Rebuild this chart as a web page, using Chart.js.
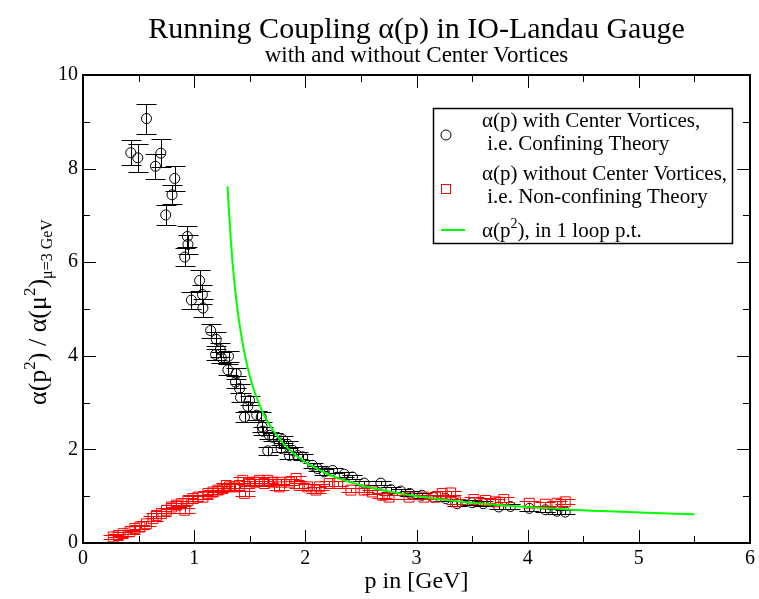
<!DOCTYPE html>
<html>
<head>
<meta charset="utf-8">
<script src="https://cdn.jsdelivr.net/npm/chart.js@4.4.1/dist/chart.umd.min.js"></script>
<style>
html, body { margin: 0; padding: 0; background: #fff; }
</style>
</head>
<body>
<canvas id="myChart" width="759" height="599"></canvas>
<script>
// Confining theory (with center vortices), black circles
const confX = [0.430, 0.493, 0.571, 0.652, 0.700, 0.744, 0.801, 0.825, 0.915, 0.939, 0.944, 0.975,
  1.049, 1.074, 1.079, 1.148, 1.193, 1.199, 1.235, 1.244, 1.303, 1.309, 1.372, 1.378, 1.408, 1.417,
  1.453, 1.483, 1.498, 1.563, 1.603, 1.612, 1.617, 1.662, 1.677, 1.707, 1.767, 1.782, 1.796, 1.841,
  1.857, 1.886, 1.931, 1.976, 2.065, 2.110, 2.170, 2.245, 2.350, 2.424, 2.529, 2.679, 2.769, 2.858,
  2.939, 3.050, 3.150, 3.262, 3.366, 3.500, 3.600, 3.740, 3.845, 4.015, 4.159, 4.263, 4.338]
const confY = [8.34, 8.23, 9.07, 8.05, 8.33, 7.01, 7.44, 7.79, 6.11, 6.55, 6.38, 5.19,
  5.61, 5.31, 5.02, 4.54, 4.03, 4.35, 4.13, 3.96, 3.70, 3.99, 3.44, 3.62, 3.30, 3.11,
  2.69, 2.92, 3.05, 2.73, 2.69, 2.48, 2.39, 1.97, 2.30, 2.26, 2.14, 2.02, 2.21, 2.11,
  1.87, 1.98, 1.87, 1.84, 1.66, 1.59, 1.52, 1.55, 1.47, 1.41, 1.28, 1.28, 1.14, 1.11,
  1.06, 1.02, 0.98, 0.95, 0.84, 0.86, 0.84, 0.77, 0.78, 0.74, 0.71, 0.68, 0.66]
const confErr = [0.27, 0.30, 0.32, 0.27, 0.30, 0.22, 0.20, 0.27, 0.20, 0.22, 0.20, 0.18,
  0.22, 0.20, 0.20, 0.15, 0.12, 0.15, 0.15, 0.12, 0.12, 0.12, 0.12, 0.12, 0.10, 0.10,
  0.10, 0.10, 0.10, 0.10, 0.10, 0.10, 0.08, 0.08, 0.08, 0.08, 0.08, 0.08, 0.08, 0.08,
  0.07, 0.08, 0.07, 0.07, 0.06, 0.06, 0.06, 0.06, 0.05, 0.05, 0.05, 0.05, 0.05, 0.05,
  0.05, 0.05, 0.05, 0.05, 0.05, 0.05, 0.05, 0.05, 0.05, 0.05, 0.05, 0.05, 0.05]

// Non-confining theory (without center vortices), red squares
const nonconfX = [0.272, 0.317, 0.361, 0.422, 0.466, 0.511, 0.571, 0.630, 0.661, 0.706, 0.751, 0.796,
  0.840, 0.885, 0.915, 0.944, 0.989, 1.034, 1.079, 1.124, 1.169, 1.213, 1.258, 1.289, 1.318, 1.363,
  1.408, 1.438, 1.453, 1.498, 1.543, 1.587, 1.632, 1.662, 1.707, 1.767, 1.782, 1.857, 1.917, 1.946,
  2.021, 2.096, 2.126, 2.215, 2.290, 2.410, 2.529, 2.604, 2.693, 2.753, 2.933, 3.067, 3.172, 3.231,
  3.307, 3.352, 3.516, 3.621, 3.710, 3.785, 4.015, 4.159, 4.263, 4.338]
const nonconfY = [0.13, 0.16, 0.20, 0.24, 0.31, 0.34, 0.41, 0.52, 0.59, 0.63, 0.70, 0.77,
  0.81, 0.84, 0.70, 0.91, 0.95, 0.98, 0.98, 1.06, 1.09, 1.13, 1.16, 1.23, 1.20, 1.20,
  1.23, 1.34, 1.06, 1.27, 1.30, 1.34, 1.27, 1.34, 1.30, 1.20, 1.30, 1.30, 1.38, 1.23,
  1.20, 1.13, 1.20, 1.27, 1.27, 1.13, 1.13, 1.09, 1.02, 0.98, 0.98, 0.98, 0.98, 1.06,
  1.07, 0.88, 0.93, 0.91, 0.88, 0.93, 0.85, 0.83, 0.85, 0.88]
const nonconfErr = [0.04, 0.04, 0.04, 0.04, 0.05, 0.05, 0.05, 0.05, 0.05, 0.05, 0.05, 0.05,
  0.05, 0.05, 0.05, 0.05, 0.05, 0.05, 0.05, 0.05, 0.05, 0.05, 0.05, 0.06, 0.06, 0.06,
  0.06, 0.06, 0.06, 0.06, 0.06, 0.06, 0.06, 0.06, 0.06, 0.06, 0.06, 0.06, 0.06, 0.06,
  0.06, 0.06, 0.06, 0.06, 0.06, 0.05, 0.05, 0.05, 0.05, 0.05, 0.05, 0.05, 0.05, 0.05,
  0.05, 0.05, 0.05, 0.05, 0.05, 0.05, 0.05, 0.05, 0.05, 0.05]

// 1 loop perturbation theory curve, green
const loopX = [1.30, 1.33, 1.36, 1.40, 1.45, 1.50, 1.56, 1.63, 1.70, 1.80, 1.90, 2.00,
  2.20, 2.40, 2.60, 2.80, 3.00, 3.30, 3.60, 4.00, 4.50, 5.00, 5.50]
const loopY = [7.62, 6.45, 5.61, 4.80, 4.09, 3.57, 3.12, 2.73, 2.44, 2.13, 1.90, 1.73,
  1.475, 1.30, 1.175, 1.077, 1.00, 0.91, 0.84, 0.77, 0.70, 0.653, 0.613]

const xTicks = [0, 1, 2, 3, 4, 5, 6]
const yTicks = [0, 2, 4, 6, 8, 10]
const xMinor = [0.5, 1.5, 2.5, 3.5, 4.5, 5.5]
const yMinor = [1, 3, 5, 7, 9]

const serif = "'Liberation Serif', 'DejaVu Serif', serif"

function pts(xs, ys) {
  return xs.map(function (x, i) { return { x: x, y: ys[i] } })
}

// error bars, drawn right after their own dataset
const errorBars = {
  id: 'errorBars',
  afterDatasetDraw(chart, args) {
    const ds = chart.data.datasets[args.index]
    if (!ds.errors) return
    const ctx = chart.ctx
    const xs = chart.scales.x, ys = chart.scales.y
    ctx.save()
    ctx.beginPath()
    ctx.rect(chart.chartArea.left, chart.chartArea.top, chart.chartArea.width, chart.chartArea.height)
    ctx.clip()
    ctx.strokeStyle = ds.borderColor
    ctx.lineWidth = 1
    ds.data.forEach(function (p, i) {
      const px = Math.round(xs.getPixelForValue(p.x)) + 0.5
      const y1 = Math.round(ys.getPixelForValue(p.y + ds.errors[i])) + 0.5
      const y2 = Math.round(ys.getPixelForValue(p.y - ds.errors[i])) + 0.5
      ctx.beginPath()
      ctx.moveTo(px, y1); ctx.lineTo(px, y2)
      ctx.moveTo(px - 10, y1); ctx.lineTo(px + 10, y1)
      ctx.moveTo(px - 10, y2); ctx.lineTo(px + 10, y2)
      ctx.stroke()
    })
    ctx.restore()
  }
}

// frame, inward ticks, titles, axis labels, legend
const decorations = {
  id: 'decorations',
  afterDraw(chart) {
    const ctx = chart.ctx
    const a = chart.chartArea
    const xs = chart.scales.x, ys = chart.scales.y
    ctx.save()
    ctx.strokeStyle = '#000'
    ctx.lineWidth = 1
    ctx.beginPath()
    xTicks.forEach(function (v) {
      const px = Math.round(xs.getPixelForValue(v)) + 0.5
      ctx.moveTo(px, a.bottom); ctx.lineTo(px, a.bottom - 13)
      ctx.moveTo(px, a.top); ctx.lineTo(px, a.top + 13)
    })
    xMinor.forEach(function (v) {
      const px = Math.round(xs.getPixelForValue(v)) + 0.5
      ctx.moveTo(px, a.bottom); ctx.lineTo(px, a.bottom - 7)
      ctx.moveTo(px, a.top); ctx.lineTo(px, a.top + 7)
    })
    yTicks.forEach(function (v) {
      const py = Math.round(ys.getPixelForValue(v)) + 0.5
      ctx.moveTo(a.left, py); ctx.lineTo(a.left + 13, py)
      ctx.moveTo(a.right, py); ctx.lineTo(a.right - 13, py)
    })
    yMinor.forEach(function (v) {
      const py = Math.round(ys.getPixelForValue(v)) + 0.5
      ctx.moveTo(a.left, py); ctx.lineTo(a.left + 7, py)
      ctx.moveTo(a.right, py); ctx.lineTo(a.right - 7, py)
    })
    ctx.stroke()
    ctx.lineWidth = 2
    ctx.strokeRect(a.left, a.top, a.right - a.left, a.bottom - a.top)

    // titles
    const cx = (a.left + a.right) / 2
    ctx.fillStyle = '#000'
    ctx.textAlign = 'center'
    ctx.textBaseline = 'alphabetic'
    ctx.font = '30px ' + serif
    ctx.fillText('Running Coupling \u03b1(p) in IO-Landau Gauge', cx, 38)
    ctx.font = '23px ' + serif
    ctx.fillText('with and without Center Vortices', cx, 62)
    ctx.font = '24px ' + serif
    ctx.fillText('p in [GeV]', cx, 588)

    // y axis title with super/subscripts
    const parts = [
      ['\u03b1(p', 26, 0], ['2', 17, -11], [') / \u03b1(\u03bc', 26, 0], ['2', 17, -11], [')', 26, 0], ['\u03bc=3 GeV', 16, 6]
    ]
    let total = 0
    parts.forEach(function (p) { ctx.font = p[1] + 'px ' + serif; total += ctx.measureText(p[0]).width })
    ctx.translate(46, (a.top + a.bottom) / 2 + total / 2 + 3)
    ctx.rotate(-Math.PI / 2)
    ctx.textAlign = 'left'
    let tx = 0
    parts.forEach(function (p) {
      ctx.font = p[1] + 'px ' + serif
      ctx.fillText(p[0], tx, p[2])
      tx += ctx.measureText(p[0]).width
    })
    ctx.restore()

    // legend
    ctx.save()
    ctx.fillStyle = '#fff'
    ctx.fillRect(433, 108, 299, 135)
    ctx.strokeStyle = '#000'
    ctx.lineWidth = 1.5
    ctx.strokeRect(433.5, 108.5, 299, 135)
    ctx.lineWidth = 1
    ctx.beginPath()
    ctx.arc(446, 135, 5, 0, Math.PI * 2)
    ctx.stroke()
    ctx.strokeStyle = '#ff0000'
    ctx.strokeRect(441.5, 184.5, 9, 9)
    ctx.strokeStyle = '#00ff00'
    ctx.lineWidth = 2
    ctx.beginPath()
    ctx.moveTo(441, 230); ctx.lineTo(465, 230)
    ctx.stroke()
    ctx.fillStyle = '#000'
    ctx.textAlign = 'left'
    ctx.font = '21px ' + serif
    ctx.fillText('\u03b1(p) with Center Vortices,', 482, 127)
    ctx.fillText(' i.e. Confining Theory', 482, 150)
    ctx.fillText('\u03b1(p) without Center Vortices,', 482, 180)
    ctx.fillText(' i.e. Non-confining Theory', 482, 203)
    let lx = 482
    ctx.fillText('\u03b1(p', lx, 237)
    lx += ctx.measureText('\u03b1(p').width
    ctx.font = '14px ' + serif
    ctx.fillText('2', lx, 228)
    lx += ctx.measureText('2').width
    ctx.font = '21px ' + serif
    ctx.fillText('), in 1 loop p.t.', lx, 237)
    ctx.restore()
  }
}

const data = {
  datasets: [{
    label: 'alpha(p^2), in 1 loop p.t.',
    data: pts(loopX, loopY),
    showLine: true,
    borderColor: '#00ff00',
    borderWidth: 2,
    pointRadius: 0,
    cubicInterpolationMode: 'monotone',
    fill: false
  }, {
    label: 'alpha(p) without Center Vortices',
    data: pts(nonconfX, nonconfY),
    errors: nonconfErr,
    borderColor: '#ff0000',
    backgroundColor: 'rgba(0,0,0,0)',
    borderWidth: 1,
    pointStyle: 'rect',
    pointRadius: 7,
    showLine: false
  }, {
    label: 'alpha(p) with Center Vortices',
    data: pts(confX, confY),
    errors: confErr,
    borderColor: '#000000',
    backgroundColor: 'rgba(0,0,0,0)',
    borderWidth: 1,
    pointStyle: 'circle',
    pointRadius: 5,
    showLine: false
  }]
}

const config = {
  type: 'scatter',
  data: data,
  options: {
    responsive: false,
    animation: false,
    devicePixelRatio: 1,
    layout: { padding: { left: 0, top: 75, right: 7, bottom: 0 } },
    plugins: { legend: { display: false }, tooltip: { enabled: false }, title: { display: false } },
    scales: {
      x: {
        type: 'linear', min: 0, max: 6,
        afterBuildTicks: function (s) { s.ticks = xTicks.map(function (v) { return { value: v } }) },
        afterFit: function (s) { s.height = 56 },
        grid: { display: false, drawTicks: false },
        border: { display: false },
        ticks: { color: '#000', font: { family: serif, size: 20 }, padding: 4, maxRotation: 0 }
      },
      y: {
        type: 'linear', min: 0, max: 10,
        afterBuildTicks: function (s) { s.ticks = yTicks.map(function (v) { return { value: v } }) },
        afterFit: function (s) { s.width = 83 },
        grid: { display: false, drawTicks: false },
        border: { display: false },
        ticks: { color: '#000', font: { family: serif, size: 20 }, padding: 5 }
      }
    }
  },
  plugins: [errorBars, decorations]
}

const myChart = new Chart(document.getElementById('myChart'), config)
</script>
</body>
</html>
